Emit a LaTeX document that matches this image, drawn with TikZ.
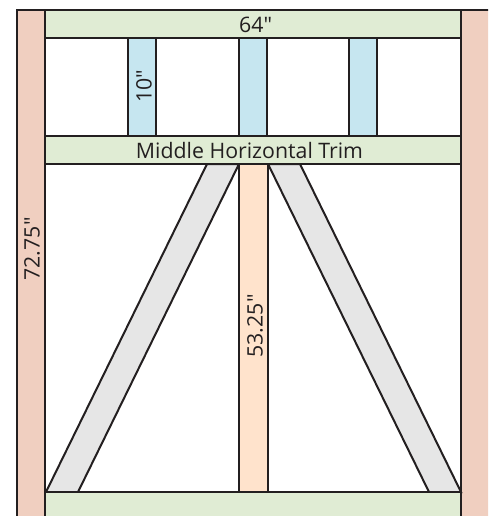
\documentclass[tikz,border=0pt]{standalone}
\usepackage{fontspec}
\usepackage{xcolor}
\setmainfont{Open Sans}
\definecolor{inkline}{HTML}{231F20}
\definecolor{postfill}{HTML}{F0CFC0}
\definecolor{railfill}{HTML}{E0ECD4}
\definecolor{picketfill}{HTML}{C6E6F0}
\definecolor{centerfill}{HTML}{FFE3CC}
\definecolor{bracefill}{HTML}{E6E6E6}
\tikzset{
	board/.style={draw=inkline,line width=2pt,line join=miter},
	lbl/.style={text=inkline,font=\fontsize{21.3}{25}\selectfont,inner sep=0pt},
}

\begin{document}
\begin{tikzpicture}[x=1pt,y=-1pt]
	\useasboundingbox (0,0) rectangle (488,516);
	\clip (0,0) rectangle (488,516);
	% side posts, cut off by the page
	\filldraw[board,fill=postfill] (17,530) -- (17,10.5) -- (45,10.5) -- (45,530) -- cycle;
	\filldraw[board,fill=postfill] (461,530) -- (461,10.5) -- (500,10.5) -- (500,530) -- cycle;
	% short pieces between top rail and middle trim
	\foreach \xleft in {128,239,349}
		\filldraw[board,fill=picketfill] (\xleft,38.5) rectangle ++(28,97.5);
	% centre piece and the two braces
	\filldraw[board,fill=centerfill] (239,164) rectangle (267.5,492);
	\filldraw[board,fill=bracefill] (207,164) -- (239,164) -- (78,492) -- (46,492) -- cycle;
	\filldraw[board,fill=bracefill] (268,164) -- (300,164) -- (461,492) -- (429,492) -- cycle;
	% the three rails
	\filldraw[board,fill=railfill] (45,10.5) rectangle (461,38.5);
	\filldraw[board,fill=railfill] (45,136) rectangle (461,164);
	\filldraw[board,fill=railfill] (45,530) -- (45,492) -- (461,492) -- (461,530) -- cycle;
	% labels
	\node[lbl] (toplabel) at (255.5,25) {64″};
	\node[lbl] (middlelabel) at (249.5,150.5) {Middle Horizontal Trim};
	\node[lbl,rotate=90] (shortlabel) at (144,86.5) {10″};
	\node[lbl,rotate=90] (centerlabel) at (255,326) {53.25″};
	\node[lbl,rotate=90] (postlabel) at (32,249) {72.75″};
\end{tikzpicture}
\end{document}
